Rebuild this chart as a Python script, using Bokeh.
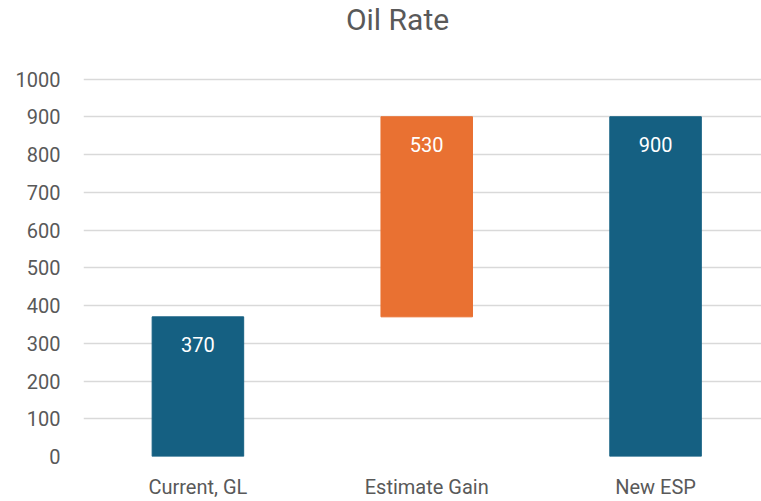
from bokeh.plotting import figure
from bokeh.models import Range1d, FixedTicker, ColumnDataSource, LabelSet, Label
from bokeh.core.properties import value
from bokeh.embed import file_html
from bokeh.resources import INLINE

title_text = "Oil Rate"
categories = ["Current, GL", "Estimate Gain", "New ESP"]
values = [370, 530, 900]
is_total = [False, False, True]
colors = ["#156082", "#E97132", "#156082"]
y_ticks = [0, 100, 200, 300, 400, 500, 600, 700, 800, 900, 1000]

# waterfall bottoms / tops computed from data
bottoms, tops = [], []
running = 0
for v, tot in zip(values, is_total):
    if tot:
        bottoms.append(0)
        tops.append(v)
        running = v
    else:
        bottoms.append(running)
        tops.append(running + v)
        running += v

xs = list(range(len(categories)))
src = ColumnDataSource(dict(x=xs, bottom=bottoms, top=tops, color=colors,
                            label=[str(v) for v in values]))

FONT = "Roboto"
GREY = "#595959"

# the frame reaches the top of the canvas; extra headroom above 1000 holds the title
p = figure(width=761, height=501, output_backend="svg", toolbar_location=None,
           x_range=Range1d(-0.5, 2.463), y_range=Range1d(0, 1208),
           min_border_left=83, min_border_right=0, min_border_top=0,
           min_border_bottom=42)
p.outline_line_color = None

title = Label(x=314, y=437, x_units="screen", y_units="screen", text=title_text,
              text_align="center", text_baseline="middle", text_font=FONT,
              text_font_size="30px", text_color=GREY)
p.add_layout(title)

p.vbar(x="x", bottom="bottom", top="top", width=0.4, color="color", source=src)

labels = LabelSet(x="x", y="top", text="label", source=src, y_offset=-28,
                  text_align="center", text_baseline="middle", text_color="white",
                  text_font=value(FONT), text_font_size="20px")
p.add_layout(labels)

p.xgrid.grid_line_color = None
p.ygrid.grid_line_color = "#d9d9d9"
p.ygrid.grid_line_width = 1.5
p.yaxis.ticker = FixedTicker(ticks=y_ticks)
p.xaxis.ticker = FixedTicker(ticks=xs)
p.xaxis.major_label_overrides = {i: c for i, c in enumerate(categories)}

for ax in (p.xaxis, p.yaxis):
    ax.axis_line_color = None
    ax.major_tick_line_color = None
    ax.minor_tick_line_color = None
    ax.major_tick_out = 0
    ax.minor_tick_out = 0
    ax.major_label_text_font = FONT
    ax.major_label_text_font_size = "20px"
    ax.major_label_text_color = GREY
p.yaxis.major_label_standoff = 23
p.xaxis.major_label_standoff = 18

open("out.html", "w").write(file_html(p, INLINE))
